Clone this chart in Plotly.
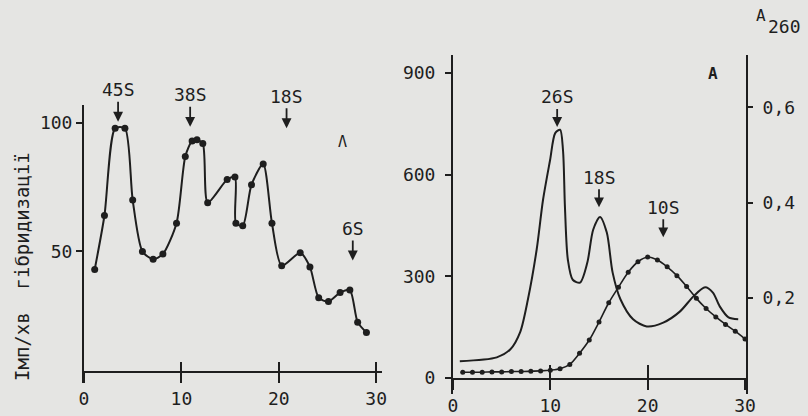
import plotly.graph_objects as go

# ---------------- data: left panel (hybridization, cpm) ----------------
left_fraction = [1.1, 2.1, 3.2, 4.2, 5.0, 6.0, 7.1, 8.1, 9.5, 10.4, 11.1, 11.6, 12.2, 12.7,
                 14.7, 15.5, 15.6, 16.3, 17.2, 18.4, 19.3, 20.3, 22.2, 23.2, 24.1, 25.1,
                 26.3, 27.3, 28.1, 29.0]
left_cpm = [43, 64, 98, 98, 70, 50, 47, 49, 61, 87, 93, 93.5, 92, 69,
            78, 79, 61, 60, 76, 84, 61, 44.5, 49.5, 44, 32, 30.5,
            34, 35, 22.5, 18.5]
left_peaks = ["45S", "38S", "18S", "6S"]
left_peak_x = [3.5, 10.9, 20.8, 27.6]
left_peak_y = [100.5, 98.5, 98, 46.5]

# ---------------- data: right panel ----------------
a260_fraction = [0.7, 4.5, 5.9, 6.9, 7.7, 8.6, 9.25, 9.97, 10.5, 11.0, 11.3, 11.5, 11.8,
                 12.3, 13.05, 13.8, 14.4, 15.1, 15.8, 16.4, 17.2, 18.5, 19.9, 21.6,
                 23.3, 24.7, 25.9, 26.7, 27.4, 28.3, 29.3]
a260_value = [0.067, 0.075, 0.092, 0.128, 0.197, 0.302, 0.406, 0.489, 0.546, 0.553, 0.51,
              0.391, 0.28, 0.238, 0.232, 0.274, 0.343, 0.37, 0.337, 0.253, 0.197, 0.155,
              0.14, 0.148, 0.171, 0.203, 0.222, 0.211, 0.182, 0.159, 0.155]
cpm_fraction = list(range(1, 31))
cpm_value = [17, 17, 17, 18, 18, 19, 19, 20, 21, 23, 27, 40, 73, 112, 165, 222, 268, 312,
             343, 357, 348, 328, 302, 270, 235, 205, 180, 158, 138, 115]
right_peaks = ["26S", "18S", "10S"]
right_peak_x = [10.7, 15.0, 21.6]
right_peak_y = [0.559, 0.39, 0.327]

left_xticks = [0, 10, 20, 30]
left_yticks = [50, 100]
right_xticks = [0, 10, 20, 30]
right_yticks = [0, 300, 600, 900]
a260_ticks = [0.2, 0.4, 0.6]
a260_ticktext = ["0,2", "0,4", "0,6"]

INK = "#1e1e1e"
BG = "#e5e5e3"
FONT = "DejaVu Sans Mono"
W, H = 808, 416

fig = go.Figure()
fig.add_trace(go.Scatter(x=left_fraction, y=left_cpm, mode="lines+markers",
                         line=dict(color=INK, width=2, shape="spline", smoothing=0.7),
                         marker=dict(color=INK, size=7), xaxis="x", yaxis="y",
                         showlegend=False, hoverinfo="skip"))
fig.add_trace(go.Scatter(x=cpm_fraction, y=cpm_value, mode="lines+markers",
                         line=dict(color=INK, width=1.6, shape="spline", smoothing=0.8),
                         marker=dict(color=INK, size=5), xaxis="x2", yaxis="y2",
                         showlegend=False, hoverinfo="skip"))
fig.add_trace(go.Scatter(x=a260_fraction, y=a260_value, mode="lines",
                         line=dict(color=INK, width=2, shape="spline", smoothing=0.8),
                         xaxis="x2", yaxis="y3", showlegend=False, hoverinfo="skip"))
# placeholders so the overlay tick axes render
fig.add_trace(go.Scatter(x=[None], y=[None], xaxis="x3", yaxis="y", showlegend=False))
fig.add_trace(go.Scatter(x=[None], y=[None], xaxis="x4", yaxis="y2", showlegend=False))

tickfont = dict(family=FONT, size=18, color=INK)
common = dict(showgrid=False, zeroline=False, showline=True, linecolor=INK, linewidth=2,
              tickcolor=INK, tickwidth=2, tickfont=tickfont, fixedrange=True)

lx0, lx1 = 84 / W, 382 / W
rx0, rx1 = 453 / W, 746 / W
fig.update_layout(
    width=W, height=H, autosize=False, margin=dict(l=0, r=0, t=0, b=0, autoexpand=False),
    paper_bgcolor=BG, plot_bgcolor="rgba(0,0,0,0)",
    xaxis=dict(domain=[lx0, lx1], range=[0, 30.6], anchor="free", position=44 / H,
               ticks="outside", ticklen=10, tickvals=left_xticks, **common),
    xaxis3=dict(domain=[lx0, lx1], range=[0, 30.6], anchor="free", position=44 / H,
                overlaying="x", ticks="inside", ticklen=10, tickvals=left_xticks[1:],
                showticklabels=False, showgrid=False, zeroline=False, showline=False,
                tickcolor=INK, tickwidth=2),
    yaxis=dict(domain=[33 / H, 311 / H], range=[-1.17, 107], anchor="x",
               ticks="outside", ticklen=6, tickvals=left_yticks, **common),
    xaxis2=dict(domain=[rx0, rx1], range=[0, 30.1], anchor="free", position=37 / H,
                ticks="outside", ticklen=10, tickvals=right_xticks, **common),
    xaxis4=dict(domain=[rx0, rx1], range=[0, 30.1], anchor="free", position=37 / H,
                overlaying="x2", ticks="inside", ticklen=14, tickvals=right_xticks[1:3],
                showticklabels=False, showgrid=False, zeroline=False, showline=False,
                tickcolor=INK, tickwidth=2),
    yaxis2=dict(domain=[22 / H, 361 / H], range=[-47.2, 953], anchor="x2",
                ticks="outside", ticklen=6, tickvals=right_yticks, ticklabelstandoff=6,
                **common),
    yaxis3=dict(range=[-0.002, 0.710], anchor="x2", overlaying="y2", side="right",
                ticks="outside", ticklen=5, tickvals=a260_ticks, ticktext=a260_ticktext,
                ticklabelstandoff=6, **common),
)

ann = []
for name, px_, py_ in zip(left_peaks, left_peak_x, left_peak_y):
    ann.append(dict(x=px_, y=py_, xref="x", yref="y", text=name, showarrow=True,
                    ax=0, ay=-32, arrowhead=2, arrowsize=1.1, arrowwidth=1.8,
                    arrowcolor=INK, standoff=0, font=dict(family=FONT, size=18, color=INK)))
for name, px_, py_ in zip(right_peaks, right_peak_x, right_peak_y):
    ann.append(dict(x=px_, y=py_, xref="x2", yref="y3", text=name, showarrow=True,
                    ax=0, ay=-30, arrowhead=2, arrowsize=1.1, arrowwidth=1.8,
                    arrowcolor=INK, standoff=0, font=dict(family=FONT, size=18, color=INK)))
centered = dict(xref="paper", yref="paper", showarrow=False, xanchor="center", yanchor="middle")
ann += [
    dict(x=22 / W, y=(H - 267) / H, text="Імп/хв  гібридизації", textangle=-90,
         font=dict(family=FONT, size=19, color=INK), **centered),
    dict(x=342 / W, y=(H - 142) / H, text="Λ",
         font=dict(family=FONT, size=15, color=INK), **centered),
    dict(x=713 / W, y=(H - 73) / H, text="<b>A</b>",
         font=dict(family=FONT, size=16, color=INK), **centered),
    dict(x=761 / W, y=(H - 16) / H, text="A",
         font=dict(family=FONT, size=16, color=INK), **centered),
    dict(x=784 / W, y=(H - 26) / H, text="260",
         font=dict(family=FONT, size=18, color=INK), **centered),
]
fig.update_layout(annotations=ann)
fig.write_html(
    "out.html",
    config={"displayModeBar": False, "responsive": False, "staticPlot": True},
    post_script=("document.body.style.margin='0';document.body.style.overflow='hidden';"
                 "document.body.style.background='%s';" % BG),
)
